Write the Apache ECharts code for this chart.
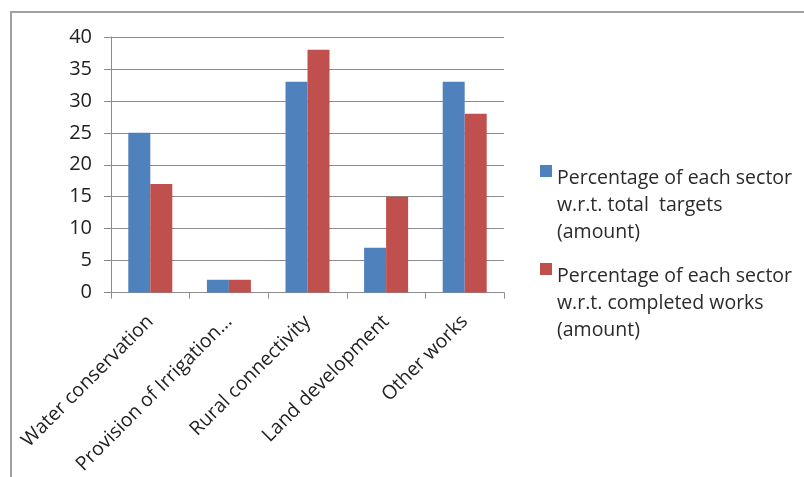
<!DOCTYPE html>
<html>
<head>
<meta charset="utf-8">
<script src="https://cdn.jsdelivr.net/npm/echarts@6/dist/echarts.min.js"></script>
<style>
  html, body { margin: 0; padding: 0; background: #fff; }
  #frame { position: absolute; left: 10px; top: 11px; width: 794px; height: 466px;
           border-top: 2px solid #a0a0a0; border-left: 2px solid #a0a0a0; box-sizing: border-box; }
  #chart { position: absolute; left: 0; top: 0; width: 804px; height: 477px; }
</style>
</head>
<body>
<div id="frame"></div>
<div id="chart"></div>
<script>
// Sector categories along the x axis
const categories = ['Water conservation', 'Provision of Irrigation...', 'Rural connectivity', 'Land development', 'Other works'];
// Percentage of each sector w.r.t. total targets (amount)
const targetShare = [25, 2, 33, 7, 33];
// Percentage of each sector w.r.t. completed works (amount)
const completedShare = [17, 2, 38, 15, 28];
// Legend labels, wrapped over three lines
const seriesNames = [
  'Percentage of each sector\nw.r.t. total  targets\n(amount)',
  'Percentage of each sector\nw.r.t. completed works\n(amount)'
];
const yTicks = { min: 0, max: 40, interval: 5 };

const font = '"Open Sans", Lato, sans-serif';
const chart = echarts.init(document.getElementById('chart'), null, { renderer: 'canvas' });

chart.setOption({
  animation: false,
  color: ['#4F81BD', '#C0504D'],
  grid: { left: 111, right: 300, top: 37, bottom: 184, containLabel: false },
  legend: {
    orient: 'vertical',
    left: 535,
    top: 160,
    itemGap: 17,
    itemWidth: 12,
    itemHeight: 81,
    symbolKeepAspect: false,
    // square sitting beside the first text line
    icon: 'path://M0,0H12V12H0Z M0,81H0.01V80.99H0Z',
    textStyle: { fontFamily: font, fontSize: 19.5, color: '#2a2a2a', lineHeight: 27 },
    data: seriesNames
  },
  xAxis: {
    type: 'category',
    data: categories,
    axisLine: { lineStyle: { color: '#8c8c8c', width: 1 } },
    axisTick: { show: true, length: 6, lineStyle: { color: '#8c8c8c' } },
    axisLabel: { rotate: 45, interval: 0, fontFamily: font, fontSize: 19.5, color: '#222', margin: 26 },
    splitLine: { show: false }
  },
  yAxis: {
    type: 'value',
    min: yTicks.min,
    max: yTicks.max,
    interval: yTicks.interval,
    axisLine: { show: true, lineStyle: { color: '#8c8c8c', width: 1 } },
    axisTick: { show: true, length: 7, lineStyle: { color: '#8c8c8c' } },
    axisLabel: { fontFamily: font, fontSize: 20, color: '#222', margin: 19 },
    splitLine: { lineStyle: { color: '#8c8c8c', width: 1 } }
  },
  series: [
    { name: seriesNames[0], type: 'bar', data: targetShare, barGap: '0%', barCategoryGap: '44%' },
    { name: seriesNames[1], type: 'bar', data: completedShare, barGap: '0%', barCategoryGap: '44%' }
  ]
});
</script>
</body>
</html>
